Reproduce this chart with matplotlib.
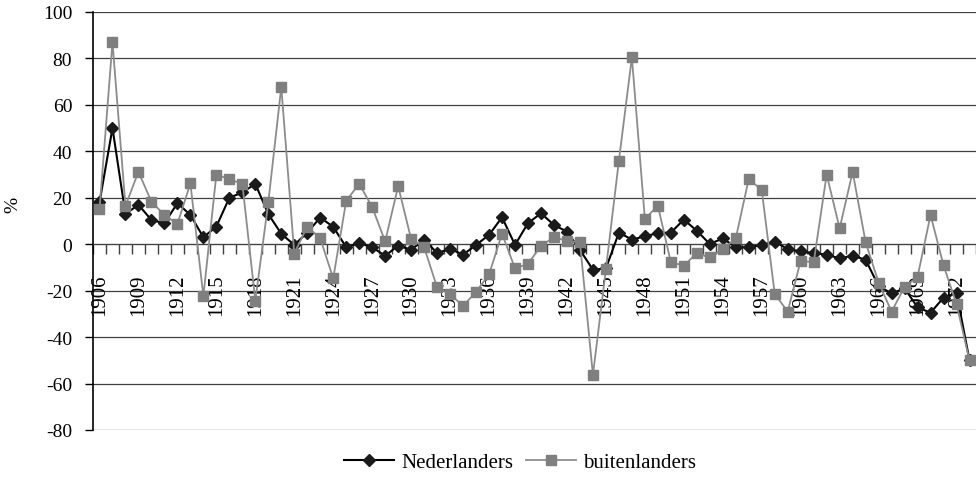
import matplotlib
matplotlib.use('Agg')
import matplotlib.pyplot as plt
import numpy as np

plt.rcParams['font.family'] = ['Liberation Serif', 'DejaVu Serif']

# jaren en procentuele veranderingen
years = list(range(1906, 1974))
nederlanders = [18, 50, 13, 17, 10.4, 9, 17.7, 12.6, 3, 7.6,
                20, 22.3, 26, 13, 4.5, -0.3, 5, 11.5, 7.5, -1.3,
                0.5, -1.3, -5, -0.6, -2.4, 2, -3.8, -2, -4.5, -0.3,
                4, 11.6, -0.3, 9.1, 13.3, 8.3, 5.4, -2.4, -11, -10.4,
                5, 2, 3.4, 4.8, 5, 10.6, 5.8, 0.1, 2.5, -1.3,
                -1.3, -0.3, 1.1, -2.1, -3.1, -3.8, -4.5, -6.1, -4.9, -6.7,
                -18, -21.2, -19, -27.2, -29.5, -23, -21, -50]
buitenlanders = [15, 87, 16.5, 31.2, 18.3, 12.6, 8.7, 26.2, -22.4, 30,
                 28, 26, -24.3, 18, 67.7, -4, 7.6, 2.5, -14.7, 18.7,
                 26, 16, 1.2, 25, 2.2, -1.3, -18.6, -21.5, -26.6, -20.5,
                 -13, 4.5, -10.4, -8.5, -0.6, 3, 1.5, 0.8, -56.3, -10.7,
                 36, 80.5, 10.9, 16.6, -7.8, -9.2, -3.9, -5.7, -2.1, 2.5,
                 28.1, 23.3, -21.4, -29, -7.1, -7.8, 30, 6.8, 31.2, 0.8,
                 -16.5, -29, -18.4, -14, 12.6, -9.1, -25.8, -50]
yticks = list(range(-80, 101, 20))

x = np.arange(len(years))

fig = plt.figure(figsize=(9.76, 4.85), dpi=100)
ax = fig.add_axes([93/976, 1-431/485, 1-93/976, (431-13)/485])

# rasterlijnen
for v in yticks:
    ax.axhline(v, color='#404040', lw=0.9, zorder=1)

ax.plot(x, nederlanders, color='black', lw=1.5, marker='D', markersize=6.5,
        markerfacecolor='#1a1a1a', markeredgecolor='#1a1a1a', label='Nederlanders', zorder=3)
ax.plot(x, buitenlanders, color='#8c8c8c', lw=1.3, marker='s', markersize=7,
        markerfacecolor='#7f7f7f', markeredgecolor='#7f7f7f', label='buitenlanders', zorder=4)

ax.set_xlim(-0.5, len(years) - 0.5)
ax.set_ylim(-80, 100)
ax.set_yticks(yticks)
ax.set_yticklabels([str(v) for v in yticks], fontsize=14)
ax.tick_params(axis='y', length=6, width=1, pad=9, direction='out')

# x-as bij 0
ax.spines['bottom'].set_position(('data', 0))
ax.spines['bottom'].set_color('#404040')
ax.spines['top'].set_visible(False)
ax.spines['right'].set_visible(False)
ax.spines['left'].set_linewidth(1.2)

lab_idx = [i for i, y in enumerate(years) if (y - 1906) % 3 == 0]
ax.set_xticks(lab_idx)
ax.set_xticklabels([str(years[i]) for i in lab_idx], rotation=90, fontsize=15)
ax.set_xticks(np.arange(len(years) + 1) - 0.5, minor=True)
ax.tick_params(axis='x', which='major', length=0, pad=21)
ax.tick_params(axis='x', which='minor', length=7, width=1, color='#404040', direction='out')

fig.text(13/976, 1-205/485, '%', rotation=90, ha='center', va='center', fontsize=14)

ax.legend(loc='center', bbox_to_anchor=(520/976, 1-463/485), bbox_transform=fig.transFigure,
          ncol=2, frameon=False, fontsize=15, handlelength=2.4, handletextpad=0.35,
          columnspacing=0.6)

fig.savefig('out.png', dpi=100)
